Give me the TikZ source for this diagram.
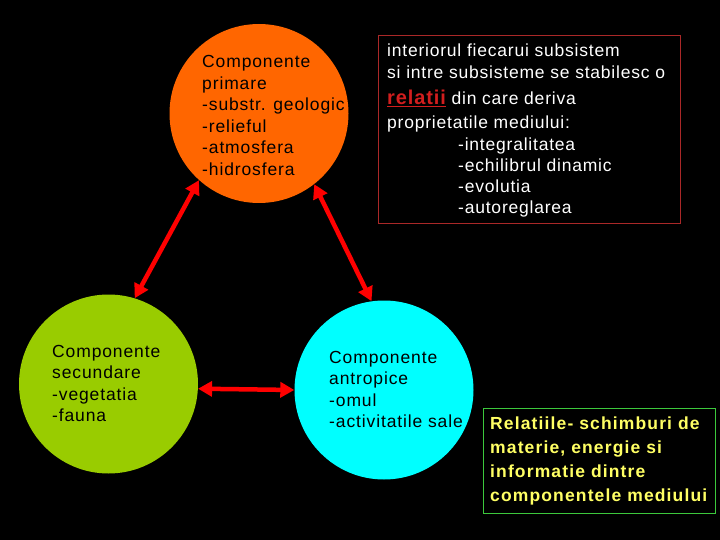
\documentclass[tikz,border=0pt]{standalone}
\usepackage{fontspec}
\setmainfont{Liberation Sans}
\newfontfamily\cerchiofont[LetterSpace=5]{Liberation Sans}
\newfontfamily\riquadrofont[LetterSpace=4.5]{Liberation Sans}
\newfontfamily\notafont[LetterSpace=6.5]{Liberation Sans}
\usetikzlibrary{arrows.meta, positioning}
\definecolor{arancio}{RGB}{255,102,0}
\definecolor{verdino}{RGB}{153,204,0}
\definecolor{ciano}{RGB}{0,255,255}
\definecolor{rossoscuro}{RGB}{170,40,40}
\definecolor{rossorel}{RGB}{210,30,30}
\definecolor{verdebordo}{RGB}{60,200,60}
\definecolor{giallo}{RGB}{255,255,100}

\begin{document}
\begin{tikzpicture}[
  x=1pt, y=-1pt,
  cerchio/.style={circle, minimum size=179pt, inner sep=0pt, draw=none},
  testocerchio/.style={anchor=north west, inner sep=0pt, align=left, text=black,
                       font=\cerchiofont\fontsize{17.5}{21.5}\selectfont},
  collegamento/.style={draw=red, line width=4.5pt,
                       {Triangle[length=14pt,width=15pt]}-{Triangle[length=14pt,width=15pt]}}
]

% sfondo
\fill[black] (0,0) rectangle (720,540);
\useasboundingbox (0,0) rectangle (720,540);

\node[cerchio, fill=arancio] (P) at (259,113.5) {};
\node[cerchio, fill=verdino] (S) at (108.5,384) {};
\node[cerchio, fill=ciano]   (A) at (384,390)   {};

\node[testocerchio] (Ptesto) at (202,55.5)
  {Componente\\ primare\\ -substr. geologic\\ -relieful\\ -atmosfera\\ -hidrosfera};
\node[testocerchio] (Stesto) at (52,345)
  {Componente\\ secundare\\ -vegetatia\\ -fauna};
\node[testocerchio] (Atesto) at (329,351)
  {Componente\\ antropice\\ -omul\\ -activitatile sale};

\draw[collegamento] (P.228) -- (S.73.7);
\draw[collegamento] (P.308.6) -- (A.98.3);
\draw[collegamento] (S.-3.9) -- (A.west);

% riquadro relatii
\draw[rossoscuro, line width=1pt] (378,36) rectangle (680,224);
\node[anchor=north west, inner sep=0pt, align=left, text=white,
      font=\riquadrofont\fontsize{17.5}{21.3}\selectfont] (R) at (387,44)
  {interiorul fiecarui subsistem\\
   si intre subsisteme se stabilesc o\\[5.5pt]
   {\color{rossorel}\bfseries\fontsize{20}{21.3}\selectfont\underline{relatii}} din care deriva\\[2.5pt]
   proprietatile mediului:\\
   \hspace*{71pt}-integralitatea\\
   \hspace*{71pt}-echilibrul dinamic\\
   \hspace*{71pt}-evolutia\\
   \hspace*{71pt}-autoreglarea};

% nota
\draw[verdebordo, line width=1pt] (483,408) rectangle (715,513);
\node[anchor=north west, inner sep=0pt, align=left, text=giallo,
      font=\notafont\bfseries\fontsize{17.5}{24}\selectfont] (N) at (490,417)
  {Relatiile- schimburi de\\ materie, energie si\\ informatie dintre\\ componentele mediului};

\end{tikzpicture}
\end{document}
